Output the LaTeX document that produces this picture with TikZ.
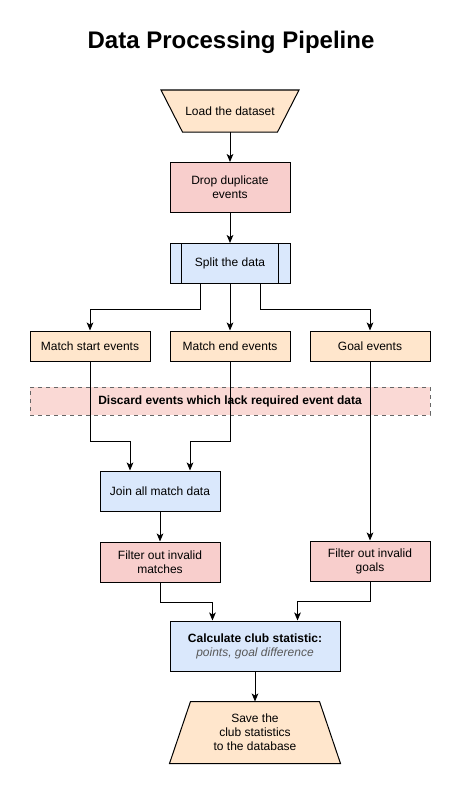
\documentclass[tikz,border=0pt]{standalone}
\usepackage{fontspec}
\setmainfont{Liberation Sans}
\usepackage{xcolor}
\usetikzlibrary{arrows.meta, positioning, backgrounds}
\definecolor{stepOrange}{HTML}{FFE6CC}
\definecolor{stepRed}{HTML}{F8CECC}
\definecolor{stepBlue}{HTML}{DAE8FC}
\definecolor{discardPink}{HTML}{FAD9D5}

\begin{document}
\begin{tikzpicture}[x=0.75pt, y=-0.75pt,
    node distance=22.5pt,
    box/.style={draw, line width=0.75pt, minimum width=90pt, minimum height=30pt, inner sep=0pt, align=center, font=\fontsize{9}{10.5}\selectfont},
    io/.style={box, draw=none},
    iobox/.style={draw, line width=0.75pt, fill=stepOrange},
    arrow/.style={draw, line width=0.75pt, -{Stealth[length=6pt, width=5pt, inset=1.5pt]}}
]
    \useasboundingbox (0,0) rectangle (463,799);

    % Title
    \node[font=\fontsize{18}{21}\selectfont\bfseries] (title) at (231,42) {Data Processing Pipeline};

    % Nodes
    \node[io, minimum width=102.75pt, minimum height=30.75pt] (load) at (230,111) {Load the dataset};
    \node[box, fill=stepRed, minimum height=37.5pt, below=of load] (drop) {Drop duplicate\\events};
    \node[box, fill=stepBlue, below=of drop] (split) {Split the data};
    \draw[line width=0.75pt] ([xshift=9pt]split.north west) -- ([xshift=9pt]split.south west);
    \draw[line width=0.75pt] ([xshift=-9pt]split.north east) -- ([xshift=-9pt]split.south east);

    \node[box, fill=stepOrange, minimum height=22.5pt] (mstart) at (90,346) {Match start events};
    \node[box, fill=stepOrange, minimum height=22.5pt] (mend) at (230,346) {Match end events};
    \node[box, fill=stepOrange, minimum height=22.5pt] (goal) at (370,346) {Goal events};

    \node[box, dashed, draw=black!60, fill=discardPink, minimum width=300pt, minimum height=21pt, font=\fontsize{9}{10.5}\selectfont\bfseries] (discard) at (230,401) {Discard events which lack required event data};

    \node[box, fill=stepBlue] (join) at (160,491) {Join all match data};
    \node[box, fill=stepRed, below=of join] (filtm) {Filter out invalid\\matches};
    \node[box, fill=stepRed] (filtg) at (370,561) {Filter out invalid\\goals};

    \node[box, fill=stepBlue, minimum width=127.5pt, minimum height=37.5pt] (calc) at (255,646) {\textbf{Calculate club statistic:}\\{\color{black!65}\itshape points, goal difference}};
    \node[io, minimum width=127.5pt, minimum height=45.75pt, below=of calc] (save) {Save the\\club statistics\\to the database};

    % Trapezium outlines behind the input/output texts
    \begin{scope}[on background layer]
        \path[iobox] (load.north west) -- (load.north east) -- ([xshift=-16.1pt]load.south east) -- ([xshift=16.1pt]load.south west) -- cycle;
        \path[iobox] ([xshift=15.75pt]save.north west) -- ([xshift=-15.75pt]save.north east) -- (save.south east) -- (save.south west) -- cycle;
    \end{scope}

    % Connections
    \draw[arrow] (load) -- (drop);
    \draw[arrow] (drop) -- (split);
    \draw[arrow] ([xshift=-22.5pt]split.south) -- ++(0,25) -| (mstart);
    \draw[arrow] (split) -- (mend);
    \draw[arrow] ([xshift=22.5pt]split.south) -- ++(0,25) -| (goal);

    \draw[arrow] (mstart.south) -- ++(0,80) -| ([xshift=-22.5pt]join.north);
    \draw[arrow] (mend.south) -- ++(0,80) -| ([xshift=22.5pt]join.north);
    \draw[arrow] (join) -- (filtm);
    \draw[arrow] (goal) -- (filtg);

    \draw[arrow] (filtm.south) -- ++(0,20) -| ([xshift=-31.9pt]calc.north);
    \draw[arrow] (filtg.south) -- ++(0,20) -| ([xshift=31.9pt]calc.north);
    \draw[arrow] (calc) -- (save);

\end{tikzpicture}
\end{document}
